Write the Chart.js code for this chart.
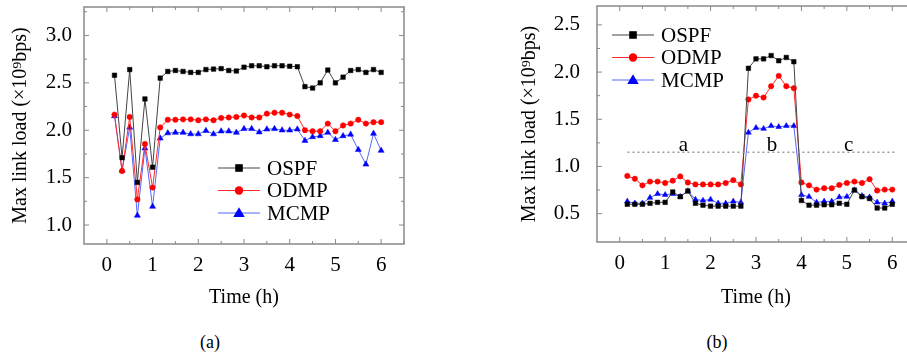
<!DOCTYPE html>
<html>
<head>
<meta charset="utf-8">
<script src="https://cdn.jsdelivr.net/npm/chart.js@4.4.0/dist/chart.umd.min.js"></script>
<style>
  html, body { margin: 0; padding: 0; background: #fff; }
  #wrap { position: relative; width: 907px; height: 358px; overflow: hidden; font-family: 'Liberation Serif', 'Times New Roman', serif; }
  #boxA { position: absolute; left: 0; top: 0; width: 450px; height: 320px; }
  #boxB { position: absolute; left: 450px; top: 0; width: 457px; height: 320px; overflow: hidden; }
  .cap { position: absolute; top: 332px; width: 60px; text-align: center; font-size: 18px; color: #000; }
</style>
</head>
<body>
<div id="wrap">
  <div id="boxA"><canvas id="chartA" width="450" height="320"></canvas></div>
  <div id="boxB"><canvas id="chartB" width="480" height="320"></canvas></div>
  <div class="cap" style="left:180px">(a)</div>
  <div class="cap" style="left:687px">(b)</div>
</div>
<script>
// time of each sample (h)
const times = [0.167, 0.333, 0.5, 0.667, 0.833, 1, 1.167, 1.333, 1.5, 1.667, 1.833, 2,
  2.167, 2.333, 2.5, 2.667, 2.833, 3, 3.167, 3.333, 3.5, 3.667, 3.833, 4,
  4.167, 4.333, 4.5, 4.667, 4.833, 5, 5.167, 5.333, 5.5, 5.667, 5.833, 6];

// (a)
const ospfA = [2.58, 1.71, 2.64, 1.45, 2.33, 1.61, 2.55, 2.62, 2.63, 2.62, 2.61, 2.61,
  2.64, 2.645, 2.65, 2.63, 2.625, 2.665, 2.68, 2.68, 2.67, 2.68, 2.68, 2.675,
  2.67, 2.46, 2.445, 2.50, 2.635, 2.50, 2.56, 2.63, 2.64, 2.61, 2.64, 2.61];
const odmpA = [2.165, 1.57, 2.14, 1.27, 1.855, 1.395, 2.03, 2.11, 2.11, 2.115, 2.115, 2.105,
  2.115, 2.105, 2.13, 2.135, 2.14, 2.155, 2.135, 2.135, 2.175, 2.185, 2.185, 2.165,
  2.15, 2.0, 1.99, 1.99, 2.07, 1.99, 2.05, 2.07, 2.11, 2.07, 2.085, 2.085];
const mcmpA = [2.15, 1.575, 2.03, 1.10, 1.81, 1.195, 1.915, 1.97, 1.975, 1.975, 1.96, 1.96,
  1.995, 1.96, 1.99, 1.99, 1.975, 2.015, 2.015, 1.98, 2.01, 2.015, 2.0, 2.0,
  2.01, 1.89, 1.93, 1.94, 1.975, 1.90, 1.94, 1.955, 1.795, 1.64, 1.965, 1.785];
const yTicksA = [1.0, 1.5, 2.0, 2.5, 3.0];

// (b)
const ospfB = [0.60, 0.60, 0.60, 0.61, 0.62, 0.62, 0.73, 0.68, 0.74, 0.61, 0.59, 0.58,
  0.58, 0.58, 0.58, 0.58, 2.04, 2.14, 2.14, 2.175, 2.12, 2.155, 2.11, 0.64,
  0.59, 0.59, 0.595, 0.595, 0.61, 0.60, 0.75, 0.68, 0.66, 0.56, 0.56, 0.60];
const odmpB = [0.90, 0.87, 0.80, 0.84, 0.84, 0.825, 0.85, 0.895, 0.83, 0.81, 0.81, 0.81,
  0.81, 0.825, 0.855, 0.81, 1.71, 1.75, 1.73, 1.85, 1.96, 1.85, 1.83, 0.83,
  0.80, 0.755, 0.77, 0.77, 0.805, 0.825, 0.84, 0.825, 0.865, 0.745, 0.755, 0.755];
const mcmpB = [0.63, 0.61, 0.61, 0.67, 0.71, 0.70, 0.71, 0.68, 0.74, 0.65, 0.64, 0.65,
  0.61, 0.61, 0.63, 0.62, 1.36, 1.41, 1.40, 1.43, 1.42, 1.43, 1.43, 0.70,
  0.68, 0.62, 0.63, 0.63, 0.675, 0.68, 0.75, 0.69, 0.675, 0.62, 0.61, 0.63];
const yTicksB = [0.5, 1.0, 1.5, 2.0, 2.5];
const dividerX = [0.17, 6.05];
const dividerY = [1.15, 1.15];
const zoneNames = ['a', 'b', 'c'];
const zoneX = [1.4, 3.35, 5.04];
const zoneY = 1.168;

const xTicks = [0, 1, 2, 3, 4, 5, 6];

Chart.defaults.font.family = "'Liberation Serif', 'Times New Roman', serif";
Chart.defaults.color = '#000';

const pts = (xs, ys) => xs.map((x, i) => ({x: x, y: ys[i]}));

// frame with inward ticks on all four sides
const framePlugin = {
  id: 'frame',
  beforeDatasetsDraw(chart) {
    const {ctx, chartArea: a, scales: {x, y}} = chart;
    ctx.save();
    ctx.strokeStyle = '#8a8a8a';
    ctx.lineWidth = 1.5;
    ctx.strokeRect(a.left, a.top, a.right - a.left, a.bottom - a.top);
    ctx.lineWidth = 1;
    ctx.beginPath();
    const xs = x.ticks.map(t => t.value);
    const xStep = xs[1] - xs[0];
    xs.forEach(v => {
      [[v, 5], [v + xStep / 2, 3]].forEach(([val, len]) => {
        if (val > x.max) return;
        const px = x.getPixelForValue(val);
        ctx.moveTo(px, a.bottom); ctx.lineTo(px, a.bottom - len);
        ctx.moveTo(px, a.top); ctx.lineTo(px, a.top + len);
      });
    });
    const ys = y.ticks.map(t => t.value);
    const yStep = ys[1] - ys[0];
    ys.forEach(v => {
      [[v, 5], [v + yStep / 2, 3]].forEach(([val, len]) => {
        if (val > y.max) return;
        const py = y.getPixelForValue(val);
        ctx.moveTo(a.left, py); ctx.lineTo(a.left + len, py);
        ctx.moveTo(a.right, py); ctx.lineTo(a.right - len, py);
      });
    });
    ctx.stroke();
    ctx.restore();
  }
};

function marker(ctx, style, x, y, r) {
  ctx.beginPath();
  if (style === 'rect') {
    ctx.rect(x - r, y - r, 2 * r, 2 * r);
  } else if (style === 'circle') {
    ctx.arc(x, y, r, 0, Math.PI * 2);
  } else {
    ctx.moveTo(x, y - r * 1.1);
    ctx.lineTo(x + r * 1.1, y + r * 0.75);
    ctx.lineTo(x - r * 1.1, y + r * 0.75);
    ctx.closePath();
  }
  ctx.fill();
}

const legendPlugin = {
  id: 'inLegend',
  afterDatasetsDraw(chart, args, opts) {
    const ctx = chart.ctx;
    ctx.save();
    ctx.font = "21px 'Liberation Serif'";
    ctx.textBaseline = 'middle';
    chart.data.datasets.filter(d => d.label).forEach((d, i) => {
      const y = opts.y + i * opts.gap;
      ctx.strokeStyle = d.borderColor;
      ctx.lineWidth = 1.2;
      ctx.beginPath();
      ctx.moveTo(opts.x, y); ctx.lineTo(opts.x + 42, y);
      ctx.stroke();
      ctx.fillStyle = d.pointBackgroundColor;
      marker(ctx, d.pointStyle, opts.x + 21, y, d.pointStyle === 'rect' ? 3.8 : d.pointStyle === 'circle' ? 4.2 : 5.2);
      ctx.fillStyle = '#000';
      ctx.fillText(d.label, opts.x + 49, y + 1);
    });
    ctx.restore();
  }
};

const zonePlugin = {
  id: 'zones',
  afterDatasetsDraw(chart, args, opts) {
    if (!opts.names) return;
    const {ctx, scales: {x, y}} = chart;
    ctx.save();
    ctx.font = "21px 'Liberation Serif'";
    ctx.textAlign = 'center';
    ctx.textBaseline = 'alphabetic';
    ctx.fillStyle = '#000';
    opts.names.forEach((n, i) => {
      ctx.fillText(n, x.getPixelForValue(opts.xs[i]), y.getPixelForValue(opts.y));
    });
    ctx.restore();
  }
};

function series(label, data, line, mark, style, r) {
  return {
    label: label,
    data: data,
    borderColor: line,
    borderWidth: 1,
    pointStyle: style,
    pointRadius: r,
    pointBackgroundColor: mark,
    pointBorderColor: mark,
    pointBorderWidth: 0.5,
    tension: 0
  };
}

function makeOptions(cfg) {
  return {
    responsive: false,
    animation: false,
    layout: {padding: cfg.pad},
    plugins: {
      legend: {display: false},
      tooltip: {enabled: false},
      inLegend: cfg.legend,
      zones: cfg.zones || {}
    },
    scales: {
      x: {
        type: 'linear',
        min: -0.5, max: 6.5,
        grid: {display: false},
        border: {display: false},
        afterBuildTicks: s => { s.ticks = xTicks.map(v => ({value: v})); },
        afterFit: s => { s.height = cfg.xHeight; s.paddingLeft = 0; s.paddingRight = 0; },
        ticks: {font: {size: 21}, padding: 1, callback: v => String(v)},
        title: {display: true, text: 'Time (h)', font: {size: 20}, padding: {top: 0, bottom: 10}}
      },
      y: {
        min: cfg.yMin, max: cfg.yMax,
        grid: {display: false},
        border: {display: false},
        afterBuildTicks: s => { s.ticks = cfg.yTicks.map(v => ({value: v})); },
        afterFit: s => { s.width = cfg.yWidth; s.paddingTop = 0; s.paddingBottom = 0; },
        ticks: {font: {size: 21}, padding: cfg.yPad, callback: v => v.toFixed(1)},
        title: {display: true, text: 'Max link load (×10⁹bps)', font: {size: 20}, padding: {top: cfg.yTitlePad, bottom: 0}}
      }
    }
  };
}

new Chart(document.getElementById('chartA'), {
  type: 'line',
  data: {
    datasets: [
      series('OSPF', pts(times, ospfA), '#444', '#000', 'rect', 3.2),
      series('ODMP', pts(times, odmpA), '#ff2a2a', '#ff0000', 'circle', 2.7),
      series('MCMP', pts(times, mcmpA), '#5566ff', '#0000ff', 'triangle', 3.5)
    ]
  },
  options: makeOptions({
    pad: {left: 0, right: 46, top: 7, bottom: 0},
    xHeight: 76, yWidth: 84, yPad: 4, yTitlePad: 8.5,
    yMin: 0.8, yMax: 3.3, yTicks: yTicksA,
    legend: {x: 218, y: 168, gap: 22.5}
  }),
  plugins: [framePlugin, legendPlugin, zonePlugin]
});

new Chart(document.getElementById('chartB'), {
  type: 'line',
  data: {
    datasets: [
      {
        data: pts(dividerX, dividerY),
        borderColor: '#9a9a9a',
        borderWidth: 1.5,
        borderDash: [2, 3],
        pointRadius: 0
      },
      series('OSPF', pts(times, ospfB), '#444', '#000', 'rect', 3.2),
      series('ODMP', pts(times, odmpB), '#ff2a2a', '#ff0000', 'circle', 2.7),
      series('MCMP', pts(times, mcmpB), '#5566ff', '#0000ff', 'triangle', 3.3)
    ]
  },
  options: makeOptions({
    pad: {left: 0, right: 15, top: 6, bottom: 0},
    xHeight: 78, yWidth: 147, yPad: 9, yTitlePad: 68,
    yMin: 0.2, yMax: 2.7, yTicks: yTicksB,
    legend: {x: 162, y: 35, gap: 22.5},
    zones: {names: zoneNames, xs: zoneX, y: zoneY}
  }),
  plugins: [framePlugin, legendPlugin, zonePlugin]
});
</script>
</body>
</html>
